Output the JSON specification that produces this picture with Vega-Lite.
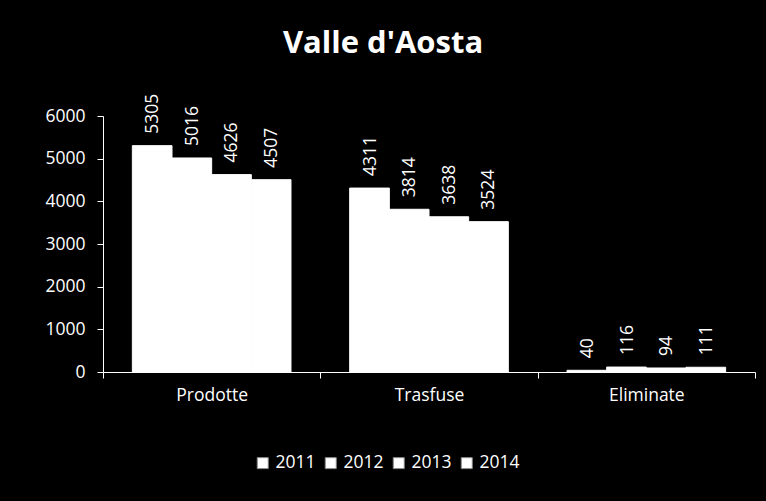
{
  "$schema": "https://vega.github.io/schema/vega-lite/v6.json",
  "autosize": {"type": "none"},
  "width": 652,
  "height": 256,
  "padding": {"left": 103, "top": 116, "right": 11, "bottom": 129},
  "background": "black",
  "config": {
    "view": {"stroke": null},
    "font": "Open Sans"
  },
  "title": {
    "text": "Valle d'Aosta",
    "font": "Open Sans",
    "fontSize": 31,
    "fontWeight": "bold",
    "color": "white",
    "anchor": "middle",
    "dx": -46,
    "baseline": "alphabetic",
    "offset": 10
  },
  "data": {
    "values": [
      {"categoria": "Prodotte", "anno": "2011", "valore": 5305},
      {"categoria": "Prodotte", "anno": "2012", "valore": 5016},
      {"categoria": "Prodotte", "anno": "2013", "valore": 4626},
      {"categoria": "Prodotte", "anno": "2014", "valore": 4507},
      {"categoria": "Trasfuse", "anno": "2011", "valore": 4311},
      {"categoria": "Trasfuse", "anno": "2012", "valore": 3814},
      {"categoria": "Trasfuse", "anno": "2013", "valore": 3638},
      {"categoria": "Trasfuse", "anno": "2014", "valore": 3524},
      {"categoria": "Eliminate", "anno": "2011", "valore": 40},
      {"categoria": "Eliminate", "anno": "2012", "valore": 116},
      {"categoria": "Eliminate", "anno": "2013", "valore": 94},
      {"categoria": "Eliminate", "anno": "2014", "valore": 111}
    ]
  },
  "encoding": {
    "x": {
      "field": "categoria",
      "type": "nominal",
      "sort": ["Prodotte", "Trasfuse", "Eliminate"],
      "scale": {"paddingInner": 0, "paddingOuter": 0},
      "axis": {
        "title": null,
        "labelAngle": 0,
        "labelColor": "white",
        "labelFont": "Open Sans",
        "labelFontSize": 17.5,
        "labelPadding": 8,
        "domainColor": "white",
        "tickColor": "white",
        "tickSize": 6,
        "tickBand": "extent",
        "grid": false
      }
    },
    "xOffset": {
      "field": "anno",
      "type": "nominal",
      "scale": {"paddingInner": 0, "paddingOuter": 0.74}
    },
    "y": {
      "field": "valore",
      "type": "quantitative",
      "scale": {"domain": [0, 6000], "nice": false},
      "axis": {
        "title": null,
        "values": [0, 1000, 2000, 3000, 4000, 5000, 6000],
        "format": "d",
        "labelColor": "white",
        "labelFont": "Open Sans",
        "labelFontSize": 17.5,
        "labelPadding": 12,
        "domainColor": "white",
        "tickColor": "white",
        "tickSize": 6,
        "grid": false
      }
    }
  },
  "layer": [
    {
      "mark": {"type": "bar", "stroke": "white", "strokeWidth": 1},
      "encoding": {
        "color": {
          "field": "anno",
          "type": "nominal",
          "scale": {"range": ["white", "white", "white", "white"]},
          "legend": {
            "title": null,
            "orient": "none",
            "direction": "horizontal",
            "columns": 4,
            "legendX": 151,
            "legendY": 338,
            "symbolType": "square",
            "symbolSize": 121,
            "symbolStrokeColor": "#888",
            "symbolStrokeWidth": 1,
            "labelColor": "white",
            "labelFont": "Open Sans",
            "labelFontSize": 17.5,
            "labelOffset": 4,
            "columnPadding": 6
          }
        }
      }
    },
    {
      "mark": {
        "type": "text",
        "angle": 270,
        "align": "left",
        "baseline": "middle",
        "dx": 12,
        "dy": 1,
        "color": "white",
        "font": "Open Sans",
        "fontSize": 17.5
      },
      "encoding": {
        "text": {"field": "valore", "type": "quantitative"}
      }
    }
  ]
}
